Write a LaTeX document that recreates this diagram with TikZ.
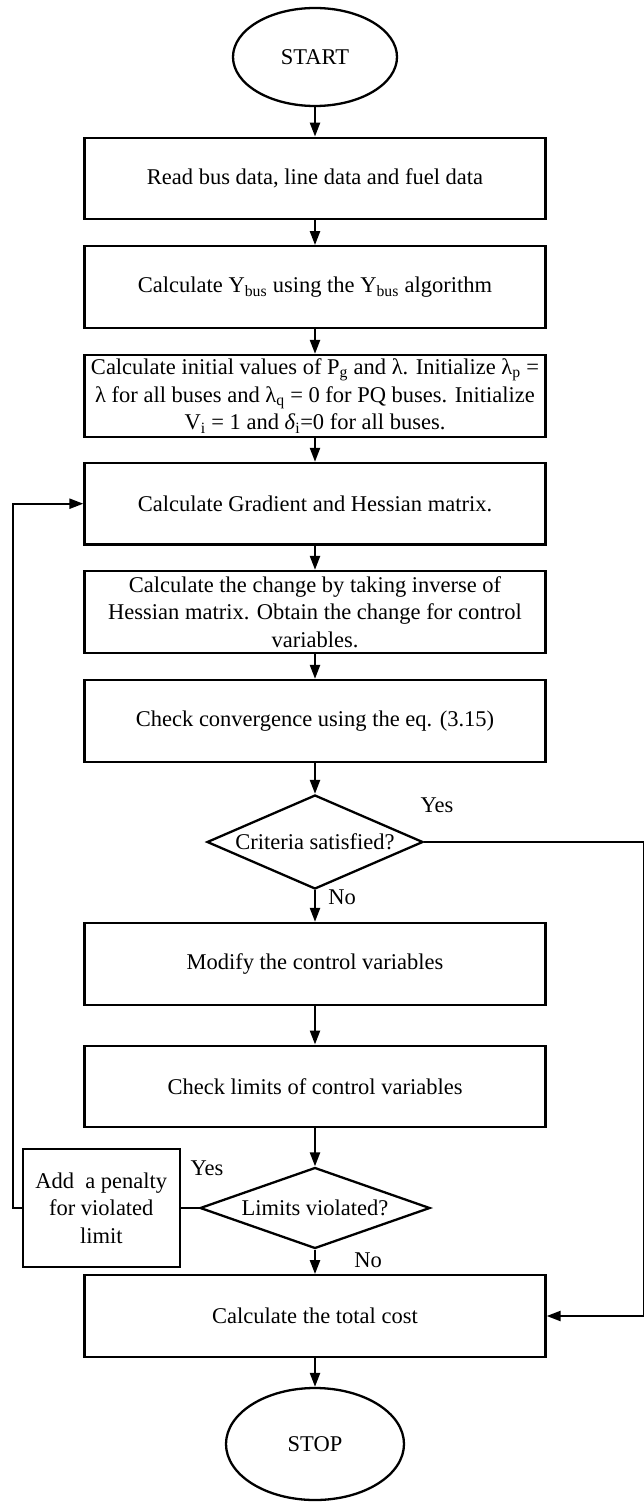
\documentclass[tikz,border=0pt]{standalone}
\usepackage{fontspec}
\setmainfont{Liberation Serif}
\usetikzlibrary{arrows.meta,shapes.geometric}
\newcommand\flowfont{\fontsize{22.5pt}{27.5pt}\selectfont}
\begin{document}
\begin{tikzpicture}[x=1pt,y=-1pt,line width=2.3pt,line join=miter,
  every node/.style={font=\flowfont},
  box/.style={draw,rectangle,minimum width=461pt,minimum height=81.5pt,inner sep=0pt,align=center},
  term/.style={draw,ellipse,inner sep=0pt},
  dia/.style={draw,diamond,inner sep=0pt},
  arr/.style={-{Triangle[length=14pt,width=10pt]}}]
\fill[white] (0,0) rectangle (643,1503);
\useasboundingbox (0,0) rectangle (643,1503);

\node[term,minimum width=164pt,minimum height=98pt] (start) at (315,57) {START};
\node[box] (b1) at (315,178.5) {Read bus data, line data and fuel data};
\node[box] (b2) at (315,287) {Calculate Y\textsubscript{bus} using the Y\textsubscript{bus} algorithm};
\node[box,minimum height=82pt] (b3) at (315,396) {Calculate initial values of P\textsubscript{g} and λ. Initialize λ\textsubscript{p} =\\λ for all buses and λ\textsubscript{q} = 0 for PQ buses. Initialize\\V\textsubscript{i} = 1 and \textit{δ}\textsubscript{i}=0 for all buses.};
\node[box] (b4) at (315,503.7) {Calculate Gradient and Hessian matrix.};
\node[box,minimum height=82pt] (b5) at (315,612) {Calculate the change by taking inverse of\\Hessian matrix. Obtain the change for control\\variables.};
\node[box,minimum height=82pt] (b6) at (315,721) {Check convergence using the eq. (3.15)};
\node[dia,minimum width=216pt,minimum height=94pt] (d1) at (315,842) {};
\node (d1t) at (315,842) {Criteria satisfied?};
\node[box,minimum height=82pt] (b7) at (315,964) {Modify the control variables};
\node[box] (b8) at (315,1086.4) {Check limits of control variables};
\node[dia,minimum width=230pt,minimum height=81pt] (d2) at (315,1208) {};
\node (d2t) at (315,1208) {Limits violated?};
\node[draw,rectangle,minimum width=157pt,minimum height=117.5pt,inner sep=0pt,align=center] (pen) at (101.3,1208) {Add~ a penalty\\for violated\\limit};
\node[box] (b9) at (315,1316) {Calculate the total cost};
\node[term,minimum width=178pt,minimum height=112pt] (stop) at (315,1444) {STOP};

\node (y1) at (437,805) {Yes};
\node (n1) at (342,897) {No};
\node (y2) at (207,1168) {Yes};
\node (n2) at (368,1260) {No};

\coordinate (rc) at (644.5,842);
\coordinate (lc) at (12.7,1208);

\draw[arr] (start.south) -- (b1.north);
\draw[arr] (b1.south) -- (b2.north);
\draw[arr] (b2.south) -- (b3.north);
\draw[arr] (b3.south) -- (b4.north);
\draw[arr] (b4.south) -- (b5.north);
\draw[arr] (b5.south) -- (b6.north);
\draw[arr] (b6.south) -- (d1.north);
\draw[arr] (d1.south) -- (b7.north);
\draw[arr] (b7.south) -- (b8.north);
\draw[arr] (b8.south) -- (d2.north);
\draw[arr] (d2.south) -- (b9.north);
\draw[arr] (b9.south) -- (stop.north);
\draw (d2.west) -- (pen.east);
\draw[arr] (pen.west) -- (lc) |- (b4.west);
\draw[arr] (d1.east) -- (rc) |- (b9.east);
\end{tikzpicture}
\end{document}
